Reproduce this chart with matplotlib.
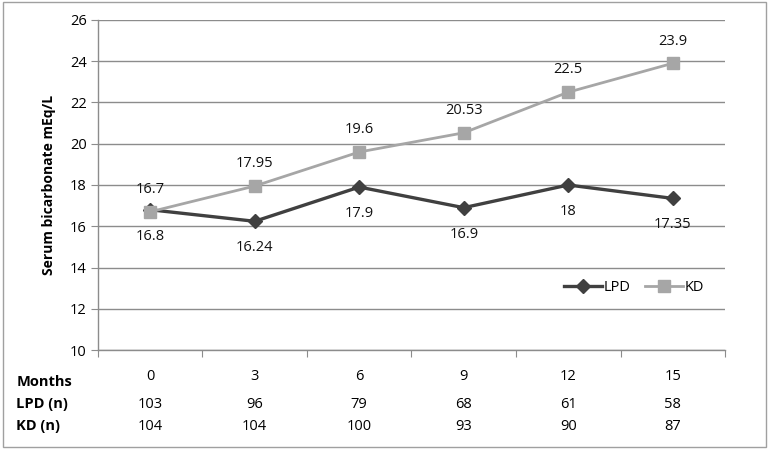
import matplotlib.pyplot as plt
import matplotlib.transforms as mtransforms

plt.rcParams['font.family'] = ['Open Sans', 'DejaVu Sans']

months = ["0", "3", "6", "9", "12", "15"]
lpd = [16.8, 16.24, 17.9, 16.9, 18.0, 17.35]
kd = [16.7, 17.95, 19.6, 20.53, 22.5, 23.9]
lpd_labels = ["16.8", "16.24", "17.9", "16.9", "18", "17.35"]
kd_labels = ["16.7", "17.95", "19.6", "20.53", "22.5", "23.9"]
lpd_n = ["103", "96", "79", "68", "61", "58"]
kd_n = ["104", "104", "100", "93", "90", "87"]

LPD_COLOR = "#404040"
KD_COLOR = "#a6a6a6"
GRID = "#8c8c8c"
FS = 10.5

fig = plt.figure(figsize=(7.69, 4.5), dpi=100)
ax = fig.add_axes([0.1274, 0.2222, 0.8154, 0.7334])

x = list(range(len(months)))
ax.plot(x, lpd, color=LPD_COLOR, lw=2.4, marker="D", markersize=7,
        label="LPD", zorder=3)
ax.plot(x, kd, color=KD_COLOR, lw=2.0, marker="s", markersize=9,
        label="KD", zorder=4)

for i in x:
    ax.annotate(kd_labels[i], (i, kd[i]), xytext=(0, 16), textcoords="offset points",
                ha="center", va="center", fontsize=FS, color="#111111")
    ax.annotate(lpd_labels[i], (i, lpd[i]), xytext=(0, -19), textcoords="offset points",
                ha="center", va="center", fontsize=FS, color="#111111")

ax.set_xlim(-0.5, len(months) - 0.5)
ax.set_ylim(10, 26)
ax.set_yticks(range(10, 27, 2))
ax.yaxis.grid(True, color=GRID, lw=1.0)
ax.set_axisbelow(True)

# category boundaries as tick marks, labels centered
ax.set_xticks([i - 0.5 for i in range(len(months) + 1)])
ax.set_xticklabels([])
ax.set_xticks(x, minor=True)
ax.set_xticklabels(months, minor=True, fontsize=FS)
ax.tick_params(axis="x", which="major", length=5, color=GRID, direction="out")
ax.tick_params(axis="x", which="minor", length=0, pad=14)
ax.tick_params(axis="y", length=5, color=GRID, labelsize=FS, pad=3)

for s in ["top", "right"]:
    ax.spines[s].set_visible(False)
for s in ["left", "bottom"]:
    ax.spines[s].set_color(GRID)
    ax.spines[s].set_linewidth(1.0)

ax.set_ylabel("Serum bicarbonate mEq/L", fontsize=10, fontweight="bold", labelpad=10)

trans = mtransforms.blended_transform_factory(ax.transData, fig.transFigure)
fig.text(0.021, 1 - 382 / 450, "Months", fontsize=FS, fontweight="bold", va="center")
fig.text(0.021, 1 - 404 / 450, "LPD (n)", fontsize=FS, fontweight="bold", va="center")
fig.text(0.021, 1 - 426 / 450, "KD (n)", fontsize=FS, fontweight="bold", va="center")
for i in x:
    ax.text(i, 1 - 404 / 450, lpd_n[i], transform=trans, ha="center", va="center", fontsize=FS)
    ax.text(i, 1 - 426 / 450, kd_n[i], transform=trans, ha="center", va="center", fontsize=FS)

ax.legend(loc="center", bbox_to_anchor=(0.855, 0.188), ncol=2, frameon=False,
          fontsize=FS, handlelength=2.6, columnspacing=1.0, handletextpad=0.1)

border = plt.Rectangle((0.004, 0.006), 0.992, 0.99, transform=fig.transFigure,
                       fill=False, edgecolor="#a0a0a0", lw=1.0)
fig.patches.append(border)

fig.savefig("out.png", dpi=100)
